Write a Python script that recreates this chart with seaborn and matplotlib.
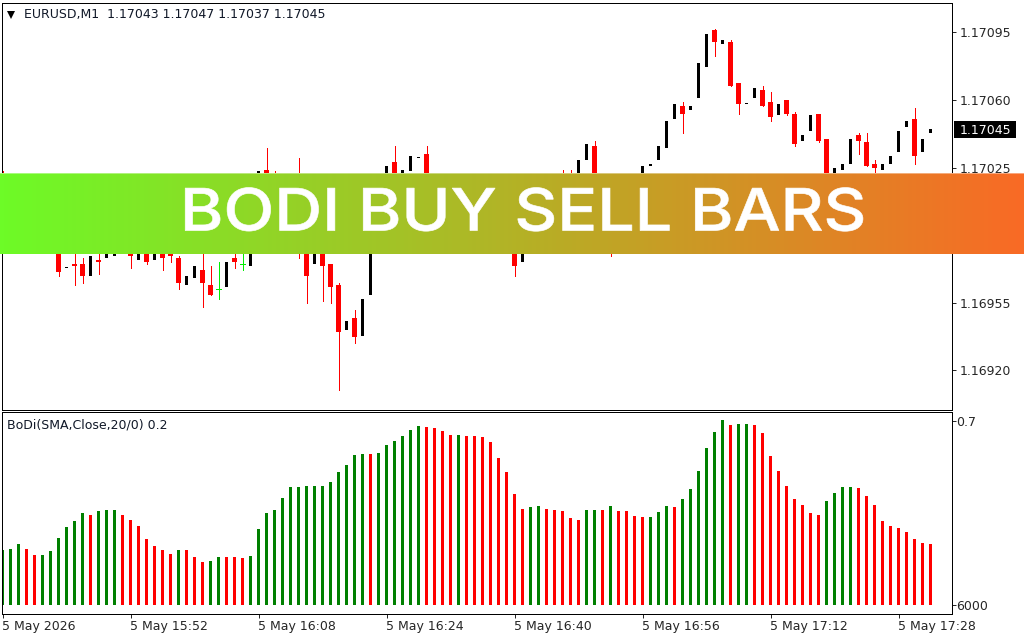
import numpy as np
import pandas as pd
import matplotlib
matplotlib.use("Agg")
import matplotlib.pyplot as plt
import matplotlib.patheffects as pe
import seaborn as sns
from matplotlib.colors import LinearSegmentedColormap
from matplotlib.patches import Rectangle
from matplotlib.transforms import Affine2D

# candle prices, in points above 1.16900
opens = [105, 100, 104, 99, 103, 100, 106, 95, 73, 75, 75, 69, 77, 78, 79, 88, 88, 77, 88, 77,
         85, 85, 78, 64, 68, 72, 64, 62, 63, 78, 75, 74, 110, 124, 112, 105, 110, 95, 95, 75,
         90, 75, 64, 41, 47, 38, 59, 100, 118, 128, 118, 123, 130, 132, 118, 108, 100, 95, 105, 100,
         92, 98, 90, 88, 85, 76, 90, 100, 108, 100, 108, 108, 112, 129, 136, 115, 95, 90, 100, 95,
         112, 126, 129, 135, 150, 157, 155, 161, 177, 196, 189, 190, 169, 158, 161, 165, 159, 152, 160, 153,
         139, 144, 153, 140, 118, 124, 127, 142, 138, 127, 124, 127, 133, 146, 150, 133, 143]
closes = [98, 104, 99, 103, 100, 106, 95, 71, 73.5, 74, 69, 79, 76, 80, 85, 84, 79, 85, 76, 85,
          78, 79, 65, 69, 74, 65, 59, 62, 76, 76, 75, 85, 123, 110, 105, 110, 100, 85, 69, 90,
          74, 63, 40, 45.5, 37, 57, 100, 118, 126, 118, 124, 131, 130.5, 118, 108, 100, 95, 105, 100, 92,
          98, 90, 84, 95, 74, 90, 98, 122, 100, 104, 100, 102, 129, 137, 115, 105, 88, 100, 95, 112,
          126, 127, 136, 149, 158, 153, 157, 179, 194, 190, 191, 167, 158, 158.5, 166, 157, 151, 158, 153, 137,
          142, 152, 139, 115, 125, 127, 140, 139, 126, 125, 127, 131, 144, 149, 131, 140, 145]
highs = [123, 104, 108, 103, 106, 106, 110, 96, 73.5, 90, 78, 79, 90, 80, 85, 92, 90, 85, 90, 85,
         88, 88, 79, 69, 74, 90, 74, 76, 76, 90, 90, 85, 123, 135, 123, 110, 114, 130, 97, 90,
         92, 75, 65, 45.5, 51, 57, 100, 118, 126, 136, 124, 131, 130.5, 136, 120, 110, 102, 105, 108, 104,
         98, 100, 93, 95, 92, 90, 98, 122, 112, 104, 124, 124, 129, 137, 139, 118, 105, 100, 103, 112,
         126, 127, 136, 149, 158, 159, 157, 179, 194, 197, 191, 191, 169, 158.5, 166, 167, 164, 158, 160, 154,
         142, 152, 153, 140, 125, 127, 140, 143, 143, 129, 127, 131, 144, 149, 156, 140, 145]
lows = [95, 100, 96, 99, 97, 100, 92, 69, 73, 64, 65, 69, 70, 78, 79, 82, 73, 77, 75, 77,
        72, 76, 62, 64, 68, 53, 59, 57, 63, 73, 72, 74, 110, 108, 103, 105, 97, 78, 55, 75,
        56, 55, 10, 41, 34, 38, 59, 100, 118, 116, 118, 123, 130, 116, 106, 98, 92, 95, 98, 90,
        92, 88, 83, 88, 69, 76, 90, 100, 98, 100, 96, 98, 112, 129, 110, 102, 79, 90, 92, 95,
        112, 126, 129, 135, 150, 143, 155, 161, 177, 183, 189, 167, 153, 158, 161, 157, 149, 152, 152, 136,
        139, 144, 138, 112, 118, 124, 127, 132, 126, 118, 124, 127, 133, 146, 127, 133, 143]

# BoDi histogram, one value per minute
bodi = [0.207, 0.214, 0.230, 0.214, 0.191, 0.191, 0.203, 0.256, 0.295, 0.321, 0.348, 0.344, 0.356, 0.360,
        0.360, 0.344, 0.325, 0.302, 0.252, 0.222, 0.210, 0.195, 0.207, 0.207, 0.180, 0.161, 0.168, 0.180,
        0.180, 0.180, 0.176, 0.187, 0.287, 0.348, 0.363, 0.409, 0.448, 0.451, 0.455, 0.455, 0.455, 0.467,
        0.505, 0.532, 0.570, 0.574, 0.574, 0.578, 0.608, 0.627, 0.643, 0.669, 0.681, 0.677, 0.673, 0.662,
        0.650, 0.650, 0.643, 0.643, 0.639, 0.620, 0.562, 0.505, 0.421, 0.367, 0.371, 0.375, 0.367, 0.363,
        0.356, 0.329, 0.325, 0.360, 0.360, 0.360, 0.375, 0.356, 0.356, 0.340, 0.333, 0.333, 0.352, 0.375,
        0.371, 0.405, 0.440, 0.509, 0.597, 0.658, 0.704, 0.685, 0.689, 0.692, 0.685, 0.654, 0.566, 0.509,
        0.455, 0.402, 0.379, 0.348, 0.344, 0.394, 0.425, 0.448, 0.451, 0.444, 0.413, 0.379, 0.321, 0.302,
        0.291, 0.279, 0.252, 0.237, 0.230]
bodi_dir = list("uuu" "dd" "uuuuuu" "d" "uuu" "ddddddd" "u" "ddd" "uu" "ddd" "uuuuuuuuuuuuuuu"
                "d" "uuuuuu" "dddd" "u" "dddddddd" "uu" "ddddd" "uu" "d" "u" "dddd" "uuu" "d"
                "uuuuuu" "d" "uu" "ddddddddd" "uuuu" "dddddddddd")

time_labels = ["5 May 2026", "5 May 15:52", "5 May 16:08", "5 May 16:24",
               "5 May 16:40", "5 May 16:56", "5 May 17:12", "5 May 17:28"]
time_ticks = [0, 16, 32, 48, 64, 80, 96, 112]
price_ticks = [1.17095, 1.17060, 1.17025, 1.16990, 1.16955, 1.16920]

FONT = "DejaVu Sans"
TXT = 9.0
W, H = 1024, 640
XLIM = (-0.125, 118.625)
LEFT, RIGHT = 1.5, 951.5


class StretchX(pe.AbstractPathEffect):
    # widen the glyphs about a fixed pixel column and thicken them, Inter is narrower than the banner's font
    def __init__(self, cx, k, lw):
        super().__init__()
        self.cx = cx
        self.k = k
        self.lw = lw

    def draw_path(self, renderer, gc, tpath, affine, rgbFace=None):
        t = affine + Affine2D().translate(-self.cx, 0).scale(self.k, 1).translate(self.cx, 0)
        gc0 = renderer.new_gc()
        gc0.copy_properties(gc)
        gc0.set_linewidth(self.lw)
        gc0.set_foreground("white")
        renderer.draw_path(gc0, tpath, t, rgbFace)
        gc0.restore()


def box(left, top, right, bottom):
    return [left / W, 1 - bottom / H, (right - left) / W, (bottom - top) / H]


def style_panel(ax, pad):
    for s in ax.spines.values():
        s.set_linewidth(0.72)
        s.set_color("black")
    ax.yaxis.tick_right()
    ax.tick_params(axis="y", length=2.9, width=0.72, pad=pad, labelsize=TXT)
    ax.set_xlabel("")
    ax.set_ylabel("")


def draw_candles(ax, df):
    red = df[df.close < df.open]
    black = df[df.close > df.open]
    doji = df[df.close == df.open]
    ax.vlines(red.idx, red.low, red.high, color="#ff0000", lw=0.72, antialiased=False)
    ax.bar(red.idx, red.open - red.close, bottom=red.close, width=0.625, color="#ff0000",
           linewidth=0, antialiased=False)
    ax.bar(black.idx, black.close - black.open, bottom=black.open, width=0.375, color="black",
           linewidth=0, antialiased=False)
    ax.vlines(doji.idx, doji.low, doji.high, color="#00ee00", lw=0.72, antialiased=False)
    ax.hlines(doji.close, doji.idx - 0.3, doji.idx + 0.3, color="#00ee00", lw=0.72, antialiased=False)


def main():
    sns.set_style("white")
    plt.rcParams["font.family"] = [FONT]

    idx = np.arange(len(bodi))
    candles = pd.DataFrame({"idx": idx,
                            "open": 1.169 + np.array(opens) * 1e-5,
                            "close": 1.169 + np.array(closes) * 1e-5,
                            "high": 1.169 + np.array(highs) * 1e-5,
                            "low": 1.169 + np.array(lows) * 1e-5})
    hist = pd.DataFrame({"idx": idx, "bodi": bodi, "direction": bodi_dir})

    fig = plt.figure(figsize=(W / 100, H / 100), dpi=100, facecolor="white")

    ax = fig.add_axes(box(LEFT, 2.5, RIGHT, 409.5))
    draw_candles(ax, candles)
    ax.set_xlim(*XLIM)
    ax.set_ylim(1.168997, 1.171105)
    ax.set_xticks([])
    ax.set_yticks(price_ticks)
    ax.set_yticklabels([f"{p:.5f}" for p in price_ticks], va="center_baseline")
    style_panel(ax, 3.2)
    ax.plot([0.0095], [0.97], marker="v", ms=6, color="black", mew=0, transform=ax.transAxes)
    ax.text(0.0232, 0.971, "EURUSD,M1  1.17043 1.17047 1.17037 1.17045", transform=ax.transAxes,
            fontsize=TXT, va="center", ha="left", color="#101828")
    ytrans = ax.get_yaxis_transform()
    ax.add_patch(Rectangle((1.0026, 1.17045 - 4.75e-5), 0.0652, 8.8e-5, transform=ytrans, fc="black",
                           ec="none", clip_on=False, zorder=4))
    ax.text(1.0089, 1.17045, "1.17045", transform=ytrans, color="white", fontsize=TXT,
            va="center_baseline", ha="left", zorder=5)

    ax2 = fig.add_axes(box(LEFT, 411.5, RIGHT, 613.5))
    sns.barplot(data=hist, x="idx", y="bodi", hue="direction", palette={"u": "#008000", "d": "#ff0000"},
                dodge=False, native_scale=True, width=0.375, gap=0, saturation=1, legend=False,
                errorbar=None, ax=ax2)
    for b in ax2.patches:
        b.set_antialiased(False)
        b.set_linewidth(0)
    ax2.set_xlim(*XLIM)
    ax2.set_ylim(-0.0344, 0.738)
    ax2.set_yticks([0, 0.7])
    ax2.set_yticklabels(["6000", "0.7"])
    ax2.set_xticks(time_ticks)
    ax2.set_xticklabels(time_labels, ha="left")
    ax2.tick_params(axis="x", length=2.9, width=0.72, pad=2, labelsize=TXT, bottom=True)
    style_panel(ax2, 0.2)
    ax2.text(0.0055, 0.935, "BoDi(SMA,Close,20/0) 0.2", transform=ax2.transAxes,
             fontsize=TXT, va="center", ha="left", color="#101828")

    # banner across the chart
    grad = LinearSegmentedColormap.from_list("banner", ["#6dfb27", "#f96a25"])
    bn = fig.add_axes(box(0, 173, 1024, 254), zorder=5)
    bn.imshow(np.linspace(0, 1, 512).reshape(1, -1), cmap=grad, aspect="auto", extent=(0, 1, 0, 1))
    bn.set_xlim(0, 1)
    bn.set_ylim(0, 1)
    bn.axis("off")
    bn.axhline(0.994, color="white", lw=0.72, alpha=0.4)
    bn.axhline(0.006, color="white", lw=0.72, alpha=0.4)
    bn.text(0.5112, 0.475, "BODI BUY SELL BARS", color="white", fontsize=42, fontweight="medium",
            family="Inter", ha="center", va="center", transform=bn.transAxes,
            path_effects=[StretchX(523.5, 1.137, 0.45)])

    fig.savefig("out.png", dpi=100)


if __name__ == "__main__":
    main()
